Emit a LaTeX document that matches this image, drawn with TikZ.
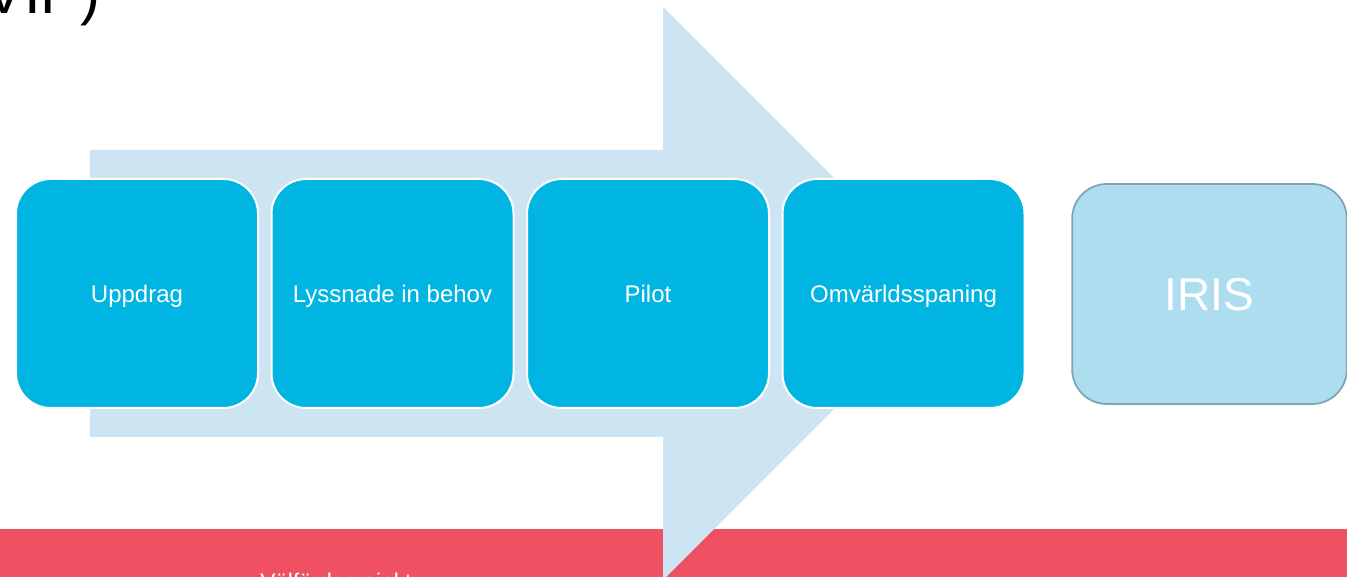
\documentclass[tikz,border=0pt]{standalone}
\usepackage{fontspec}
\setmainfont{Liberation Sans}
\definecolor{arrowblue}{RGB}{205,228,243}
\definecolor{stepblue}{RGB}{0,181,226}
\definecolor{irisfill}{RGB}{173,221,238}
\definecolor{irisedge}{RGB}{125,163,180}
\definecolor{bandred}{RGB}{240,81,98}
\tikzset{
  stepbox/.style={draw=white, line width=1.5pt, fill=stepblue, rounded corners=26pt,
    minimum width=181.5pt, minimum height=171.75pt, text=white, inner sep=0pt,
    text height=12.9pt, text depth=0pt,
    font=\fontsize{18pt}{21pt}\selectfont},
  irisbox/.style={draw=irisedge, line width=1.3pt, fill=irisfill, rounded corners=26pt,
    minimum width=206pt, minimum height=165pt, text=white, inner sep=0pt,
    text height=24.7pt, text depth=0pt,
    font=\fontsize{34.5pt}{40pt}\selectfont},
}
\begin{document}
\begin{tikzpicture}[x=0.75pt, y=-0.75pt]
\clip (0,0) rectangle (1347,577);
\fill[white] (0,0) rectangle (1347,577);
% red band
\fill[bandred] (0,529) rectangle (1347,600);
\node[text=white, anchor=base west, inner sep=0pt, font=\fontsize{17pt}{20pt}\selectfont] (band) at (260,589) {Välfärdsprojekt};
% big arrow
\fill[arrowblue] (90,150) -- (663,150) -- (663,7) -- (949.5,293.5) -- (663,580) -- (663,437) -- (90,437) -- cycle;
% title fragment
\node[anchor=base east, inner sep=0pt, font=\fontsize{45pt}{52pt}\selectfont] (title) at (101,14) {VIP)};
% steps
\node[stepbox] (s1) at (137,293.5) {Uppdrag};
\node[stepbox] (s2) at (392.5,293.5) {Lyssnade in behov};
\node[stepbox] (s3) at (648,293.5) {Pilot};
\node[stepbox] (s4) at (903.5,293.5) {Omvärldsspaning};
\node[irisbox] (iris) at (1209.5,294) {IRIS};
\end{tikzpicture}
\end{document}
